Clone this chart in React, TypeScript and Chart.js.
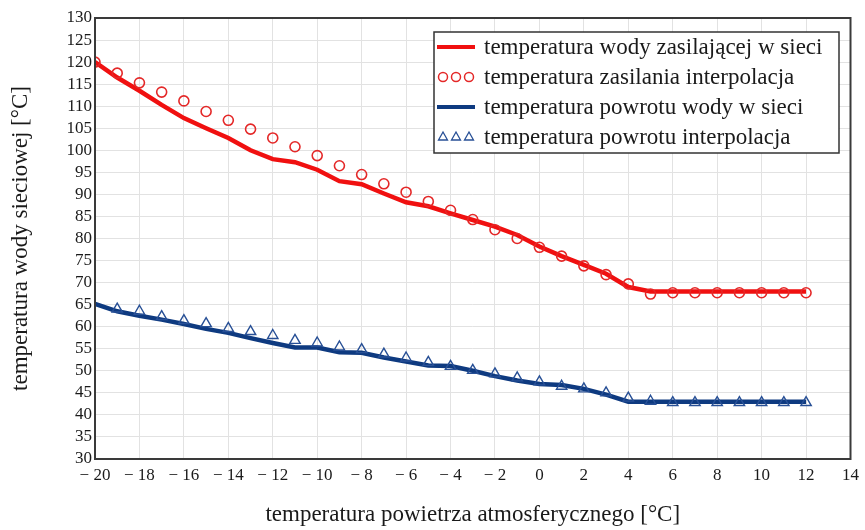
import React, { useEffect, useRef } from "react";
import { Chart, registerables } from "chart.js";

Chart.register(...registerables);

const xValues = [-20, -19, -18, -17, -16, -15, -14, -13, -12, -11, -10, -9, -8, -7, -6, -5, -4, -3, -2, -1, 0, 1, 2, 3, 4, 5, 6, 7, 8, 9, 10, 11, 12];

const supplyLine = [120, 116.5, 113.5, 110.3, 107.3, 105, 102.8, 100, 98, 97.3, 95.6, 93, 92.3, 90.2, 88.2, 87.3, 85.7, 84.2, 82.7, 80.8, 78.2, 76, 74, 72, 69, 68, 68, 68, 68, 68, 68, 68, 68];

const supplyInterp = [120, 117.5, 115.3, 113.2, 111.2, 108.8, 106.8, 104.8, 102.8, 100.8, 98.8, 96.5, 94.5, 92.4, 90.5, 88.4, 86.4, 84.3, 82, 80, 78, 76, 73.8, 71.8, 69.7, 67.4, 67.7, 67.7, 67.7, 67.7, 67.7, 67.7, 67.7];

const returnLine = [65.2, 63.5, 62.5, 61.6, 60.6, 59.5, 58.6, 57.4, 56.3, 55.3, 55.3, 54.2, 54.1, 53, 52.1, 51.2, 51.1, 50, 48.8, 47.8, 47, 46.8, 45.9, 44.6, 43, 43, 43, 43, 43, 43, 43, 43, 43];

const returnInterpX = [-19, -18, -17, -16, -15, -14, -13, -12, -11, -10, -9, -8, -7, -6, -5, -4, -3, -2, -1, 0, 1, 2, 3, 4, 5, 6, 7, 8, 9, 10, 11, 12];
const returnInterp = [64, 63.5, 62.3, 61.4, 60.7, 59.6, 58.9, 58, 56.9, 56.3, 55.4, 54.8, 53.8, 52.9, 51.9, 51, 50.1, 49.3, 48.4, 47.5, 46.5, 45.9, 45, 43.8, 43.1, 42.8, 42.8, 42.8, 42.8, 42.8, 42.8, 42.8];

const seriesNames = [
  "temperatura wody zasilającej w sieci",
  "temperatura zasilania interpolacja",
  "temperatura powrotu wody w sieci",
  "temperatura powrotu interpolacja",
];

const xTitle = "temperatura powietrza atmosferycznego [°C]";
const yTitle = "temperatura wody sieciowej [°C]";

const RED = "rgb(240,16,16)";
const RED_MARK = "rgb(228,40,40)";
const BLUE = "rgb(14,58,128)";
const BLUE_MARK = "rgb(40,80,150)";
const FONT = "'Liberation Serif', 'Times New Roman', serif";
const TEXT = "#1a1a1a";

const framePlugin = {
  id: "frame",
  afterDraw(chart: any) {
    const { ctx, chartArea } = chart;
    ctx.save();
    ctx.strokeStyle = "#3a3a3a";
    ctx.lineWidth = 2;
    ctx.strokeRect(chartArea.left, chartArea.top, chartArea.right - chartArea.left, chartArea.bottom - chartArea.top);

    // legend
    const bx = 434, by = 32, bw = 405, bh = 121;
    ctx.fillStyle = "#fff";
    ctx.fillRect(bx, by, bw, bh);
    ctx.strokeStyle = "#333";
    ctx.lineWidth = 1.5;
    ctx.strokeRect(bx, by, bw, bh);
    const rowY = [47, 77, 107, 137];
    ctx.font = `23px ${FONT}`;
    ctx.textBaseline = "middle";
    ctx.textAlign = "left";
    rowY.forEach((y, i) => {
      if (i === 0 || i === 2) {
        ctx.strokeStyle = i === 0 ? RED : BLUE;
        ctx.lineWidth = 4;
        ctx.beginPath();
        ctx.moveTo(437, y);
        ctx.lineTo(475, y);
        ctx.stroke();
      } else if (i === 1) {
        ctx.strokeStyle = RED_MARK;
        ctx.lineWidth = 1.5;
        [443, 456, 469].forEach((cx) => {
          ctx.beginPath();
          ctx.arc(cx, y, 4.5, 0, Math.PI * 2);
          ctx.stroke();
        });
      } else {
        ctx.strokeStyle = BLUE_MARK;
        ctx.lineWidth = 1.3;
        [443, 456, 469].forEach((cx) => {
          ctx.beginPath();
          ctx.moveTo(cx, y - 5);
          ctx.lineTo(cx + 4.5, y + 3);
          ctx.lineTo(cx - 4.5, y + 3);
          ctx.closePath();
          ctx.stroke();
        });
      }
      ctx.fillStyle = TEXT;
      ctx.fillText(seriesNames[i], 484, y + 1);
    });
    ctx.restore();
  },
};

export default function App() {
  const ref = useRef<HTMLCanvasElement | null>(null);
  useEffect(() => {
    if (!ref.current) return;
    const chart = new Chart(ref.current, {
      type: "line",
      data: {
        datasets: [
          {
            label: seriesNames[1],
            data: xValues.map((x, i) => ({ x, y: supplyInterp[i] })),
            showLine: false,
            pointStyle: "circle",
            pointRadius: 5,
            pointBorderWidth: 1.6,
            pointBorderColor: RED_MARK,
            pointBackgroundColor: "transparent",
            borderColor: RED_MARK,
          },
          {
            label: seriesNames[3],
            data: returnInterpX.map((x, i) => ({ x, y: returnInterp[i] })),
            showLine: false,
            pointStyle: "triangle",
            pointRadius: 6,
            pointBorderWidth: 1.4,
            pointBorderColor: BLUE_MARK,
            pointBackgroundColor: "transparent",
            borderColor: BLUE_MARK,
          },
          {
            label: seriesNames[0],
            data: xValues.map((x, i) => ({ x, y: supplyLine[i] })),
            borderColor: RED,
            borderWidth: 4.5,
            pointRadius: 0,
            tension: 0,
            fill: false,
          },
          {
            label: seriesNames[2],
            data: xValues.map((x, i) => ({ x, y: returnLine[i] })),
            borderColor: BLUE,
            borderWidth: 4.5,
            pointRadius: 0,
            tension: 0,
            fill: false,
          },
        ],
      },
      options: {
        responsive: false,
        animation: false,
        layout: { padding: { top: 18, right: 12, left: 0, bottom: 0 } },
        plugins: { legend: { display: false }, tooltip: { enabled: false } },
        scales: {
          x: {
            type: "linear",
            min: -20,
            max: 14,
            afterFit: (s: any) => {
              s.height = 71;
            },
            ticks: {
              stepSize: 2,
              padding: 6,
              color: TEXT,
              autoSkip: false,
              font: { family: FONT, size: 17 },
              maxRotation: 0,
              callback: (v: any) => (v < 0 ? "\u2212 " + Math.abs(v) : String(v)),
            },
            grid: { color: "rgb(226,226,226)", drawTicks: false, lineWidth: 1 },
            border: { display: false },
            title: {
              display: true,
              text: xTitle,
              color: TEXT,
              font: { family: FONT, size: 23 },
              padding: { top: 0, bottom: 1 },
            },
          },
          y: {
            type: "linear",
            min: 30,
            max: 130,
            afterFit: (s: any) => {
              s.width = 95;
            },
            ticks: {
              stepSize: 5,
              padding: 3,
              autoSkip: false,
              color: TEXT,
              font: { family: FONT, size: 17 },
            },
            grid: { color: "rgb(226,226,226)", drawTicks: false, lineWidth: 1 },
            border: { display: false },
            title: {
              display: true,
              text: yTitle,
              color: TEXT,
              font: { family: FONT, size: 23 },
              padding: { top: 7, bottom: 0 },
            },
          },
        },
      },
      plugins: [framePlugin],
    });
    return () => chart.destroy();
  }, []);
  return (
    <div style={{ position: "fixed", left: 0, top: 0, width: 865, height: 530, background: "#fff" }}>
      <canvas ref={ref} width={865} height={530} />
    </div>
  );
}
